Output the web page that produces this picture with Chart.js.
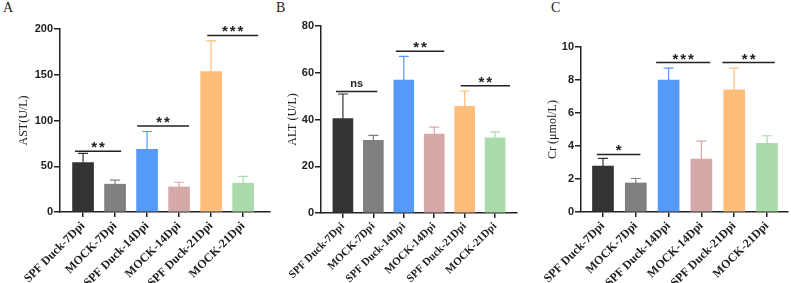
<!DOCTYPE html>
<html><head><meta charset="utf-8">
<script src="https://cdn.jsdelivr.net/npm/chart.js@4"></script>
<style>
body{margin:0;background:#fff;width:791px;height:283px;overflow:hidden;position:relative;}
canvas{position:absolute;top:0;}
.lbl{position:absolute;top:1px;font:14px "Liberation Serif",serif;line-height:1;color:#222}
</style></head><body>
<div class="lbl" style="left:3px">A</div>
<div class="lbl" style="left:276px">B</div>
<div class="lbl" style="left:551px">C</div>
<canvas id="cA" width="272" height="283" style="left:0px"></canvas>
<canvas id="cB" width="260" height="283" style="left:262px"></canvas>
<canvas id="cC" width="269" height="283" style="left:522px"></canvas>
<script>
const categories = ['SPF Duck-7Dpi','MOCK-7Dpi','SPF Duck-14Dpi','MOCK-14Dpi','SPF Duck-21Dpi','MOCK-21Dpi'];

const astMean = [54.1, 30.4, 68.4, 27.4, 153.5, 31.5];
const astSD   = [9.9, 4.4, 19.6, 5.1, 33.5, 7.5];
const astTicks = [0, 50, 100, 150, 200];
const astSigLabels = ['**', '**', '***'];
const astSigY = [66.5, 94, 193];
const astSigFrom = [-0.25, 1.69, 3.88];
const astSigTo = [1.19, 3.31, 5.47];

const altMean = [40.4, 31.1, 56.9, 33.8, 45.6, 32.2];
const altSD   = [10.5, 2.1, 10.1, 2.9, 6.6, 2.5];
const altTicks = [0, 20, 40, 60, 80];
const altSigLabels = ['ns', '**', '**'];
const altSigY = [52, 69.2, 54.4];
const altSigFrom = [-0.23, 1.74, 3.87];
const altSigTo = [1.13, 3.33, 5.49];

const crMean = [2.78, 1.76, 7.99, 3.2, 7.4, 4.16];
const crSD   = [0.47, 0.27, 0.73, 1.1, 1.32, 0.46];
const crTicks = [0, 2, 4, 6, 8, 10];
const crSigLabels = ['*', '***', '**'];
const crSigY = [3.49, 9.06, 9.06];
const crSigFrom = [-0.19, 1.62, 3.64];
const crSigTo = [1.14, 3.27, 5.24];

const barColors = ['#333333','#808080','#559af8','#d5a9a8','#ffbd7b','#a9dcaa'];
const INK = '#222222';

function makeChart(id, o) {
  const plugin = {
    id: 'errsig',
    afterDatasetsDraw(chart) {
      const ctx = chart.ctx, xs = chart.scales.x, ys = chart.scales.y;
      ctx.save();
      ctx.lineWidth = 1.2;
      o.mean.forEach((m, i) => {
        const x = xs.getPixelForValue(i);
        const y0 = ys.getPixelForValue(m);
        const y1 = ys.getPixelForValue(m + o.sd[i]);
        ctx.strokeStyle = barColors[i];
        ctx.beginPath();
        ctx.moveTo(x, y0); ctx.lineTo(x, y1);
        ctx.moveTo(x - 5, y1); ctx.lineTo(x + 5, y1);
        ctx.stroke();
      });
      ctx.strokeStyle = INK; ctx.fillStyle = INK; ctx.lineWidth = 1.5;
      o.sigLabels.forEach((lab, k) => {
        const y = ys.getPixelForValue(o.sigY[k]);
        const x1 = xs.getPixelForValue(o.sigFrom[k]);
        const x2 = xs.getPixelForValue(o.sigTo[k]);
        ctx.beginPath(); ctx.moveTo(x1, y); ctx.lineTo(x2, y); ctx.stroke();
        ctx.textAlign = 'center'; ctx.textBaseline = 'alphabetic';
        if (lab === 'ns') {
          ctx.letterSpacing = '0px';
          ctx.font = 'bold 11px "Liberation Sans"';
          ctx.fillText(lab, (x1 + x2) / 2, y - 4);
        } else {
          ctx.letterSpacing = '2px';
          ctx.font = 'bold 15px "Liberation Sans"';
          ctx.fillText(lab, (x1 + x2) / 2 + 1, y + 1);
        }
      });
      ctx.restore();
    }
  };
  return new Chart(document.getElementById(id), {
    type: 'bar',
    data: {
      datasets: [{
        data: o.mean.map((v, i) => ({x: i, y: v})),
        backgroundColor: barColors,
        borderWidth: 0,
        barThickness: o.barW
      }]
    },
    options: {
      responsive: false,
      animation: false,
      layout: {padding: {left: 0, right: o.padR, top: o.padT, bottom: 0}},
      plugins: {legend: {display: false}, tooltip: {enabled: false}},
      scales: {
        x: {
          type: 'linear', bounds: 'data', offset: false, min: o.xmin, max: o.xmax,
          afterBuildTicks: s => { s.ticks = categories.map((_, i) => ({value: i})); },
          afterFit: s => { s.height = o.xH; s.paddingLeft = 0; s.paddingRight = 0; },
          grid: {offset: false, drawOnChartArea: false, drawTicks: true, tickLength: 5, color: INK, lineWidth: 1.5},
          border: {display: true, color: INK, width: 1.5},
          ticks: {autoSkip: false, minRotation: 45, maxRotation: 45, padding: 2, color: INK,
                  font: {family: 'Liberation Serif', weight: 'bold', size: o.xFont},
                  callback: v => categories[v]}
        },
        y: {
          min: 0, max: o.ymax,
          afterBuildTicks: s => { s.ticks = o.ticks.map(v => ({value: v})); },
          afterFit: s => { s.width = o.yW; s.paddingTop = 0; s.paddingBottom = 0; },
          grid: {drawOnChartArea: false, drawTicks: true, tickLength: 6, color: INK, lineWidth: 1.5},
          border: {display: true, color: INK, width: 1.5},
          ticks: {padding: 1, color: INK, font: {family: 'Liberation Sans', weight: 'bold', size: 11}},
          title: {display: true, text: o.title, color: INK,
                  font: {family: 'Liberation Serif', size: 12}, padding: {top: o.titlePad, bottom: 0}}
        }
      }
    },
    plugins: [plugin]
  });
}

makeChart('cA', {mean: astMean, sd: astSD, ticks: astTicks, ymax: 200, title: 'AST(U/L)',
  sigLabels: astSigLabels, sigY: astSigY, sigFrom: astSigFrom, sigTo: astSigTo,
  xmin: -0.72, xmax: 5.84, padR: 2, padT: 29, xH: 71, yW: 60, titlePad: 16.8, barW: 21, xFont: 12});
makeChart('cB', {mean: altMean, sd: altSD, ticks: altTicks, ymax: 80, title: 'ALT (U/L)',
  sigLabels: altSigLabels, sigY: altSigY, sigFrom: altSigFrom, sigTo: altSigTo,
  xmin: -0.72, xmax: 5.72, padR: 5, padT: 26, xH: 70, yW: 59, titlePad: 23.8, barW: 20, xFont: 11});
makeChart('cC', {mean: crMean, sd: crSD, ticks: crTicks, ymax: 10, title: 'Cr (μmol/L)',
  sigLabels: crSigLabels, sigY: crSigY, sigFrom: crSigFrom, sigTo: crSigTo,
  xmin: -0.67, xmax: 5.64, padR: 3, padT: 47, xH: 71, yW: 59, titlePad: 23.8, barW: 21, xFont: 12});
</script>
</body></html>
